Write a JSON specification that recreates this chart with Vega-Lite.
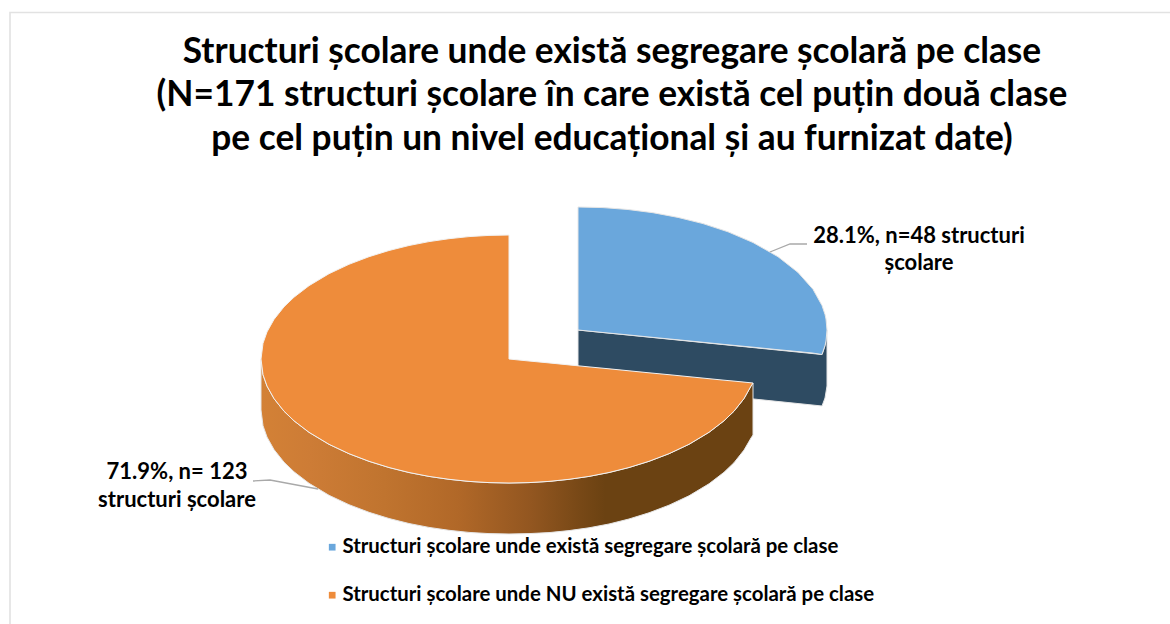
{
"$schema":"https://vega.github.io/schema/vega-lite/v6.json",
"width":1170,"height":624,"autosize":"none","padding":0,
"background":"white",
"view":{"stroke":null},
"title":{"text":["Structuri școlare unde există segregare școlară pe clase","(N=171 structuri școlare în care există cel puțin două clase","pe cel puțin un nivel educațional și au furnizat date)"],"font":"Lato","fontSize":35.3,"fontWeight":"bold","color":"#000000","anchor":"middle","frame":"group","lineHeight":43.5,"dx":27,"dy":189,"baseline":"alphabetic"},
"datasets":{
"frame":[{"x":10,"y":624,"seq":1},{"x":10,"y":12.5,"seq":2},{"x":1170,"y":12.5,"seq":3}],
"blueSide":[{"x":578,"y":330,"y2":381},{"x":822,"y":354.5,"y2":406},{"x":825,"y":345.6,"y2":398},{"x":827,"y":330,"y2":386}],
"blueTop":[{"cat":"Structuri școlare unde există segregare școlară pe clase","x":578,"y":207,"y2":330},{"cat":"Structuri școlare unde există segregare școlară pe clase","x":603,"y":207.6,"y2":332.5},{"cat":"Structuri școlare unde există segregare școlară pe clase","x":628,"y":209.5,"y2":334.9},{"cat":"Structuri școlare unde există segregare școlară pe clase","x":653,"y":212.7,"y2":337.4},{"cat":"Structuri școlare unde există segregare școlară pe clase","x":678,"y":217.4,"y2":339.8},{"cat":"Structuri școlare unde există segregare școlară pe clase","x":703,"y":223.6,"y2":342.3},{"cat":"Structuri școlare unde există segregare școlară pe clase","x":728,"y":231.8,"y2":344.8},{"cat":"Structuri școlare unde există segregare școlară pe clase","x":753,"y":242.5,"y2":347.2},{"cat":"Structuri școlare unde există segregare școlară pe clase","x":778,"y":256.7,"y2":349.7},{"cat":"Structuri școlare unde există segregare școlară pe clase","x":798,"y":272.4,"y2":351.6},{"cat":"Structuri școlare unde există segregare școlară pe clase","x":813,"y":289.3,"y2":353.1},{"cat":"Structuri școlare unde există segregare școlară pe clase","x":822,"y":305.5,"y2":354.5},{"cat":"Structuri școlare unde există segregare școlară pe clase","x":825,"y":314.4,"y2":345.6},{"cat":"Structuri școlare unde există segregare școlară pe clase","x":826,"y":319,"y2":341},{"cat":"Structuri școlare unde există segregare școlară pe clase","x":827,"y":330,"y2":330}],
"orangeSide":[{"x":261,"y":359,"y2":410},{"x":263,"y":374.7,"y2":425.7},{"x":267,"y":386.1,"y2":437.1},{"x":274,"y":398.6,"y2":449.6},{"x":284,"y":411.2,"y2":462.2},{"x":294,"y":420.8,"y2":471.8},{"x":309,"y":432.3,"y2":483.3},{"x":329,"y":444.3,"y2":495.3},{"x":349,"y":453.7,"y2":504.7},{"x":369,"y":461.3,"y2":512.3},{"x":389,"y":467.5,"y2":518.5},{"x":409,"y":472.5,"y2":523.5},{"x":429,"y":476.4,"y2":527.4},{"x":449,"y":479.3,"y2":530.3},{"x":469,"y":481.4,"y2":532.4},{"x":489,"y":482.6,"y2":533.6},{"x":509,"y":483,"y2":534},{"x":529,"y":482.6,"y2":533.6},{"x":549,"y":481.4,"y2":532.6},{"x":569,"y":479.3,"y2":530.6},{"x":589,"y":476.4,"y2":527.8},{"x":609,"y":472.5,"y2":524},{"x":629,"y":467.5,"y2":519},{"x":649,"y":461.3,"y2":512.8},{"x":669,"y":453.7,"y2":505.2},{"x":689,"y":444.3,"y2":495.8},{"x":709,"y":432.3,"y2":483.8},{"x":724,"y":420.8,"y2":472.3},{"x":734,"y":411.2,"y2":462.7},{"x":744,"y":398.6,"y2":450.1},{"x":751,"y":386.1,"y2":438},{"x":753,"y":383,"y2":435}],
"orangeTop":[{"cat":"Structuri școlare unde NU există segregare școlară pe clase","x":261,"y":359,"y2":359},{"cat":"Structuri școlare unde NU există segregare școlară pe clase","x":263,"y":343.3,"y2":374.7},{"cat":"Structuri școlare unde NU există segregare școlară pe clase","x":267,"y":331.9,"y2":386.1},{"cat":"Structuri școlare unde NU există segregare școlară pe clase","x":274,"y":319.4,"y2":398.6},{"cat":"Structuri școlare unde NU există segregare școlară pe clase","x":284,"y":306.8,"y2":411.2},{"cat":"Structuri școlare unde NU există segregare școlară pe clase","x":294,"y":297.2,"y2":420.8},{"cat":"Structuri școlare unde NU există segregare școlară pe clase","x":309,"y":285.7,"y2":432.3},{"cat":"Structuri școlare unde NU există segregare școlară pe clase","x":329,"y":273.7,"y2":444.3},{"cat":"Structuri școlare unde NU există segregare școlară pe clase","x":349,"y":264.3,"y2":453.7},{"cat":"Structuri școlare unde NU există segregare școlară pe clase","x":369,"y":256.7,"y2":461.3},{"cat":"Structuri școlare unde NU există segregare școlară pe clase","x":389,"y":250.5,"y2":467.5},{"cat":"Structuri școlare unde NU există segregare școlară pe clase","x":409,"y":245.5,"y2":472.5},{"cat":"Structuri școlare unde NU există segregare școlară pe clase","x":429,"y":241.6,"y2":476.4},{"cat":"Structuri școlare unde NU există segregare școlară pe clase","x":449,"y":238.7,"y2":479.3},{"cat":"Structuri școlare unde NU există segregare școlară pe clase","x":469,"y":236.6,"y2":481.4},{"cat":"Structuri școlare unde NU există segregare școlară pe clase","x":489,"y":235.4,"y2":482.6},{"cat":"Structuri școlare unde NU există segregare școlară pe clase","x":509,"y":235,"y2":483},{"cat":"Structuri școlare unde NU există segregare școlară pe clase","x":509,"y":359,"y2":483},{"cat":"Structuri școlare unde NU există segregare școlară pe clase","x":529,"y":361,"y2":482.6},{"cat":"Structuri școlare unde NU există segregare școlară pe clase","x":549,"y":362.9,"y2":481.4},{"cat":"Structuri școlare unde NU există segregare școlară pe clase","x":569,"y":364.9,"y2":479.3},{"cat":"Structuri școlare unde NU există segregare școlară pe clase","x":589,"y":366.9,"y2":476.4},{"cat":"Structuri școlare unde NU există segregare școlară pe clase","x":609,"y":368.8,"y2":472.5},{"cat":"Structuri școlare unde NU există segregare școlară pe clase","x":629,"y":370.8,"y2":467.5},{"cat":"Structuri școlare unde NU există segregare școlară pe clase","x":649,"y":372.8,"y2":461.3},{"cat":"Structuri școlare unde NU există segregare școlară pe clase","x":669,"y":374.7,"y2":453.7},{"cat":"Structuri școlare unde NU există segregare școlară pe clase","x":689,"y":376.7,"y2":444.3},{"cat":"Structuri școlare unde NU există segregare școlară pe clase","x":709,"y":378.7,"y2":432.3},{"cat":"Structuri școlare unde NU există segregare școlară pe clase","x":724,"y":380.2,"y2":420.8},{"cat":"Structuri școlare unde NU există segregare școlară pe clase","x":734,"y":381.1,"y2":411.2},{"cat":"Structuri școlare unde NU există segregare școlară pe clase","x":744,"y":382.1,"y2":398.6},{"cat":"Structuri școlare unde NU există segregare școlară pe clase","x":751,"y":382.8,"y2":386.1},{"cat":"Structuri școlare unde NU există segregare școlară pe clase","x":753,"y":383,"y2":383}],
"leaders":[{"id":"a","x":770,"y":252,"seq":1},{"id":"a","x":790,"y":244,"seq":2},{"id":"a","x":807,"y":244,"seq":3},{"id":"b","x":318,"y":489,"seq":1},{"id":"b","x":270,"y":480,"seq":2},{"id":"b","x":253,"y":481,"seq":3}],
"labels":[{"x":919,"y":236,"t":"28.1%, n=48 structuri"},{"x":919,"y":263,"t":"școlare"},{"x":177,"y":472,"t":"71.9%, n= 123"},{"x":177,"y":500,"t":"structuri școlare"}]
},
"layer":[
{"data":{"name":"frame"},"mark":{"type":"line","color":"#e2e2e2","strokeWidth":1.6},
 "encoding":{"x":{"field":"x","type":"quantitative","scale":{"domain":[0,1170],"nice":false,"zero":false},"axis":null},"y":{"field":"y","type":"quantitative","scale":{"domain":[624,0],"nice":false,"zero":false},"axis":null},"order":{"field":"seq"}}},
{"data":{"name":"blueSide"},"mark":{"type":"area","orient":"vertical","color":"#2e4b62","stroke":"#e6e6e6","strokeWidth":1},
 "encoding":{"x":{"field":"x","type":"quantitative"},"y":{"field":"y","type":"quantitative"},"y2":{"field":"y2"}}},
{"data":{"name":"blueTop"},"mark":{"type":"area","orient":"vertical","stroke":"#e6e6e6","strokeWidth":1},
 "encoding":{"x":{"field":"x","type":"quantitative"},"y":{"field":"y","type":"quantitative"},"y2":{"field":"y2"},
  "color":{"field":"cat","type":"nominal","scale":{"domain":["Structuri școlare unde există segregare școlară pe clase","Structuri școlare unde NU există segregare școlară pe clase"],"range":["#6aa7dc","#ee8c3b"]},
   "legend":{"title":null,"orient":"none","legendX":322,"legendY":537,"symbolType":"square","symbolSize":45,"symbolStrokeWidth":0,"labelFont":"Lato","labelFontSize":20.4,"labelFontWeight":"bold","labelColor":"#000000","labelLimit":700,"rowPadding":27,"labelOffset":0}}}},
{"data":{"name":"orangeSide"},"mark":{"type":"area","orient":"vertical","stroke":"#e6e6e6","strokeWidth":1,"color":{"gradient":"linear","x1":0,"y1":0,"x2":1,"y2":0,"stops":[{"offset":0,"color":"#d38136"},{"offset":0.1,"color":"#cd7c36"},{"offset":0.25,"color":"#c0742f"},{"offset":0.4,"color":"#b16828"},{"offset":0.55,"color":"#925620"},{"offset":0.65,"color":"#774816"},{"offset":0.7,"color":"#6b4212"},{"offset":1,"color":"#6b4212"}]}},
 "encoding":{"x":{"field":"x","type":"quantitative"},"y":{"field":"y","type":"quantitative"},"y2":{"field":"y2"}}},
{"data":{"name":"orangeTop"},"mark":{"type":"area","orient":"vertical","stroke":"#f2f2f2","strokeWidth":1},
 "encoding":{"x":{"field":"x","type":"quantitative"},"y":{"field":"y","type":"quantitative"},"y2":{"field":"y2"},"color":{"field":"cat","type":"nominal"}}},
{"data":{"name":"leaders"},"mark":{"type":"line","color":"#a9a9a9","strokeWidth":1.3},
 "encoding":{"x":{"field":"x","type":"quantitative"},"y":{"field":"y","type":"quantitative"},"detail":{"field":"id"},"order":{"field":"seq"}}},
{"data":{"name":"labels"},"mark":{"type":"text","font":"Lato","fontSize":22,"fontWeight":"bold","color":"#000000","align":"center","baseline":"middle"},
 "encoding":{"x":{"field":"x","type":"quantitative"},"y":{"field":"y","type":"quantitative"},"text":{"field":"t"}}}
]
}
